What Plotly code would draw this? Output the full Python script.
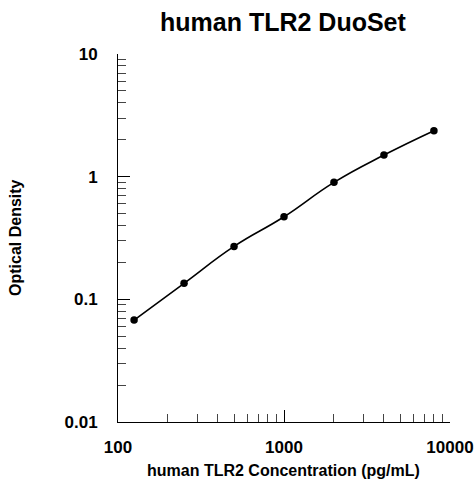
import plotly.graph_objects as go

concentration = [125, 250, 500, 1000, 2000, 4000, 8000]
optical_density = [0.0678, 0.135, 0.270, 0.471, 0.899, 1.50, 2.37]

title = "human TLR2 DuoSet"
x_title = "human TLR2 Concentration (pg/mL)"
y_title = "Optical Density"
x_ticks = [100, 1000, 10000]
y_ticks = [0.01, 0.1, 1, 10]

fam = "Liberation Sans, Arial, sans-serif"

fig = go.Figure()
fig.add_trace(go.Scatter(
    x=concentration, y=optical_density, mode="lines+markers",
    line=dict(color="black", width=1.6, shape="spline", smoothing=1.3),
    marker=dict(color="black", size=7.5),
    showlegend=False, cliponaxis=False,
))

fig.update_layout(
    width=475, height=482,
    margin=dict(l=118, r=25, t=54, b=60, autoexpand=False),
    plot_bgcolor="white", paper_bgcolor="white",
    font=dict(family=fam, color="black"),
    annotations=[
        dict(text="<b>" + title + "</b>", xref="paper", yref="paper",
             x=0.497, y=1.0, yshift=32, xanchor="center", yanchor="middle",
             showarrow=False, font=dict(size=25, family=fam, color="black")),
        dict(text="<b>" + x_title + "</b>", xref="paper", yref="paper",
             x=0.497, y=0, yshift=-48, xanchor="center", yanchor="middle",
             showarrow=False, font=dict(size=16, family=fam, color="black")),
        dict(text="<b>" + y_title + "</b>", xref="paper", yref="paper",
             x=0, xshift=-103, y=0.5, xanchor="center", yanchor="middle", textangle=-90,
             showarrow=False, font=dict(size=16, family=fam, color="black")),
    ],
)
fig.update_xaxes(
    type="log", range=[2, 4], showgrid=False, zeroline=False, automargin=False,
    showline=True, linecolor="black", linewidth=1,
    ticks="inside", ticklen=12, tickcolor="black",
    tickvals=x_ticks, ticktext=["<b>%d</b>" % v for v in x_ticks],
    tickfont=dict(size=17), ticklabelstandoff=10,
    minor=dict(ticks="inside", ticklen=8, tickcolor="#444", dtick="D1"),
)
fig.update_yaxes(
    type="log", range=[-2, 1], showgrid=False, zeroline=False, automargin=False,
    showline=True, linecolor="black", linewidth=1,
    ticks="inside", ticklen=12, tickcolor="black",
    tickvals=y_ticks, ticktext=["<b>%g</b>" % v for v in y_ticks],
    tickfont=dict(size=17), ticklabelstandoff=16,
    minor=dict(ticks="inside", ticklen=8, tickcolor="#444", dtick="D1"),
)

fig.write_html("out.html", config={"displayModeBar": False},
               post_script="document.body.style.margin='0';")
